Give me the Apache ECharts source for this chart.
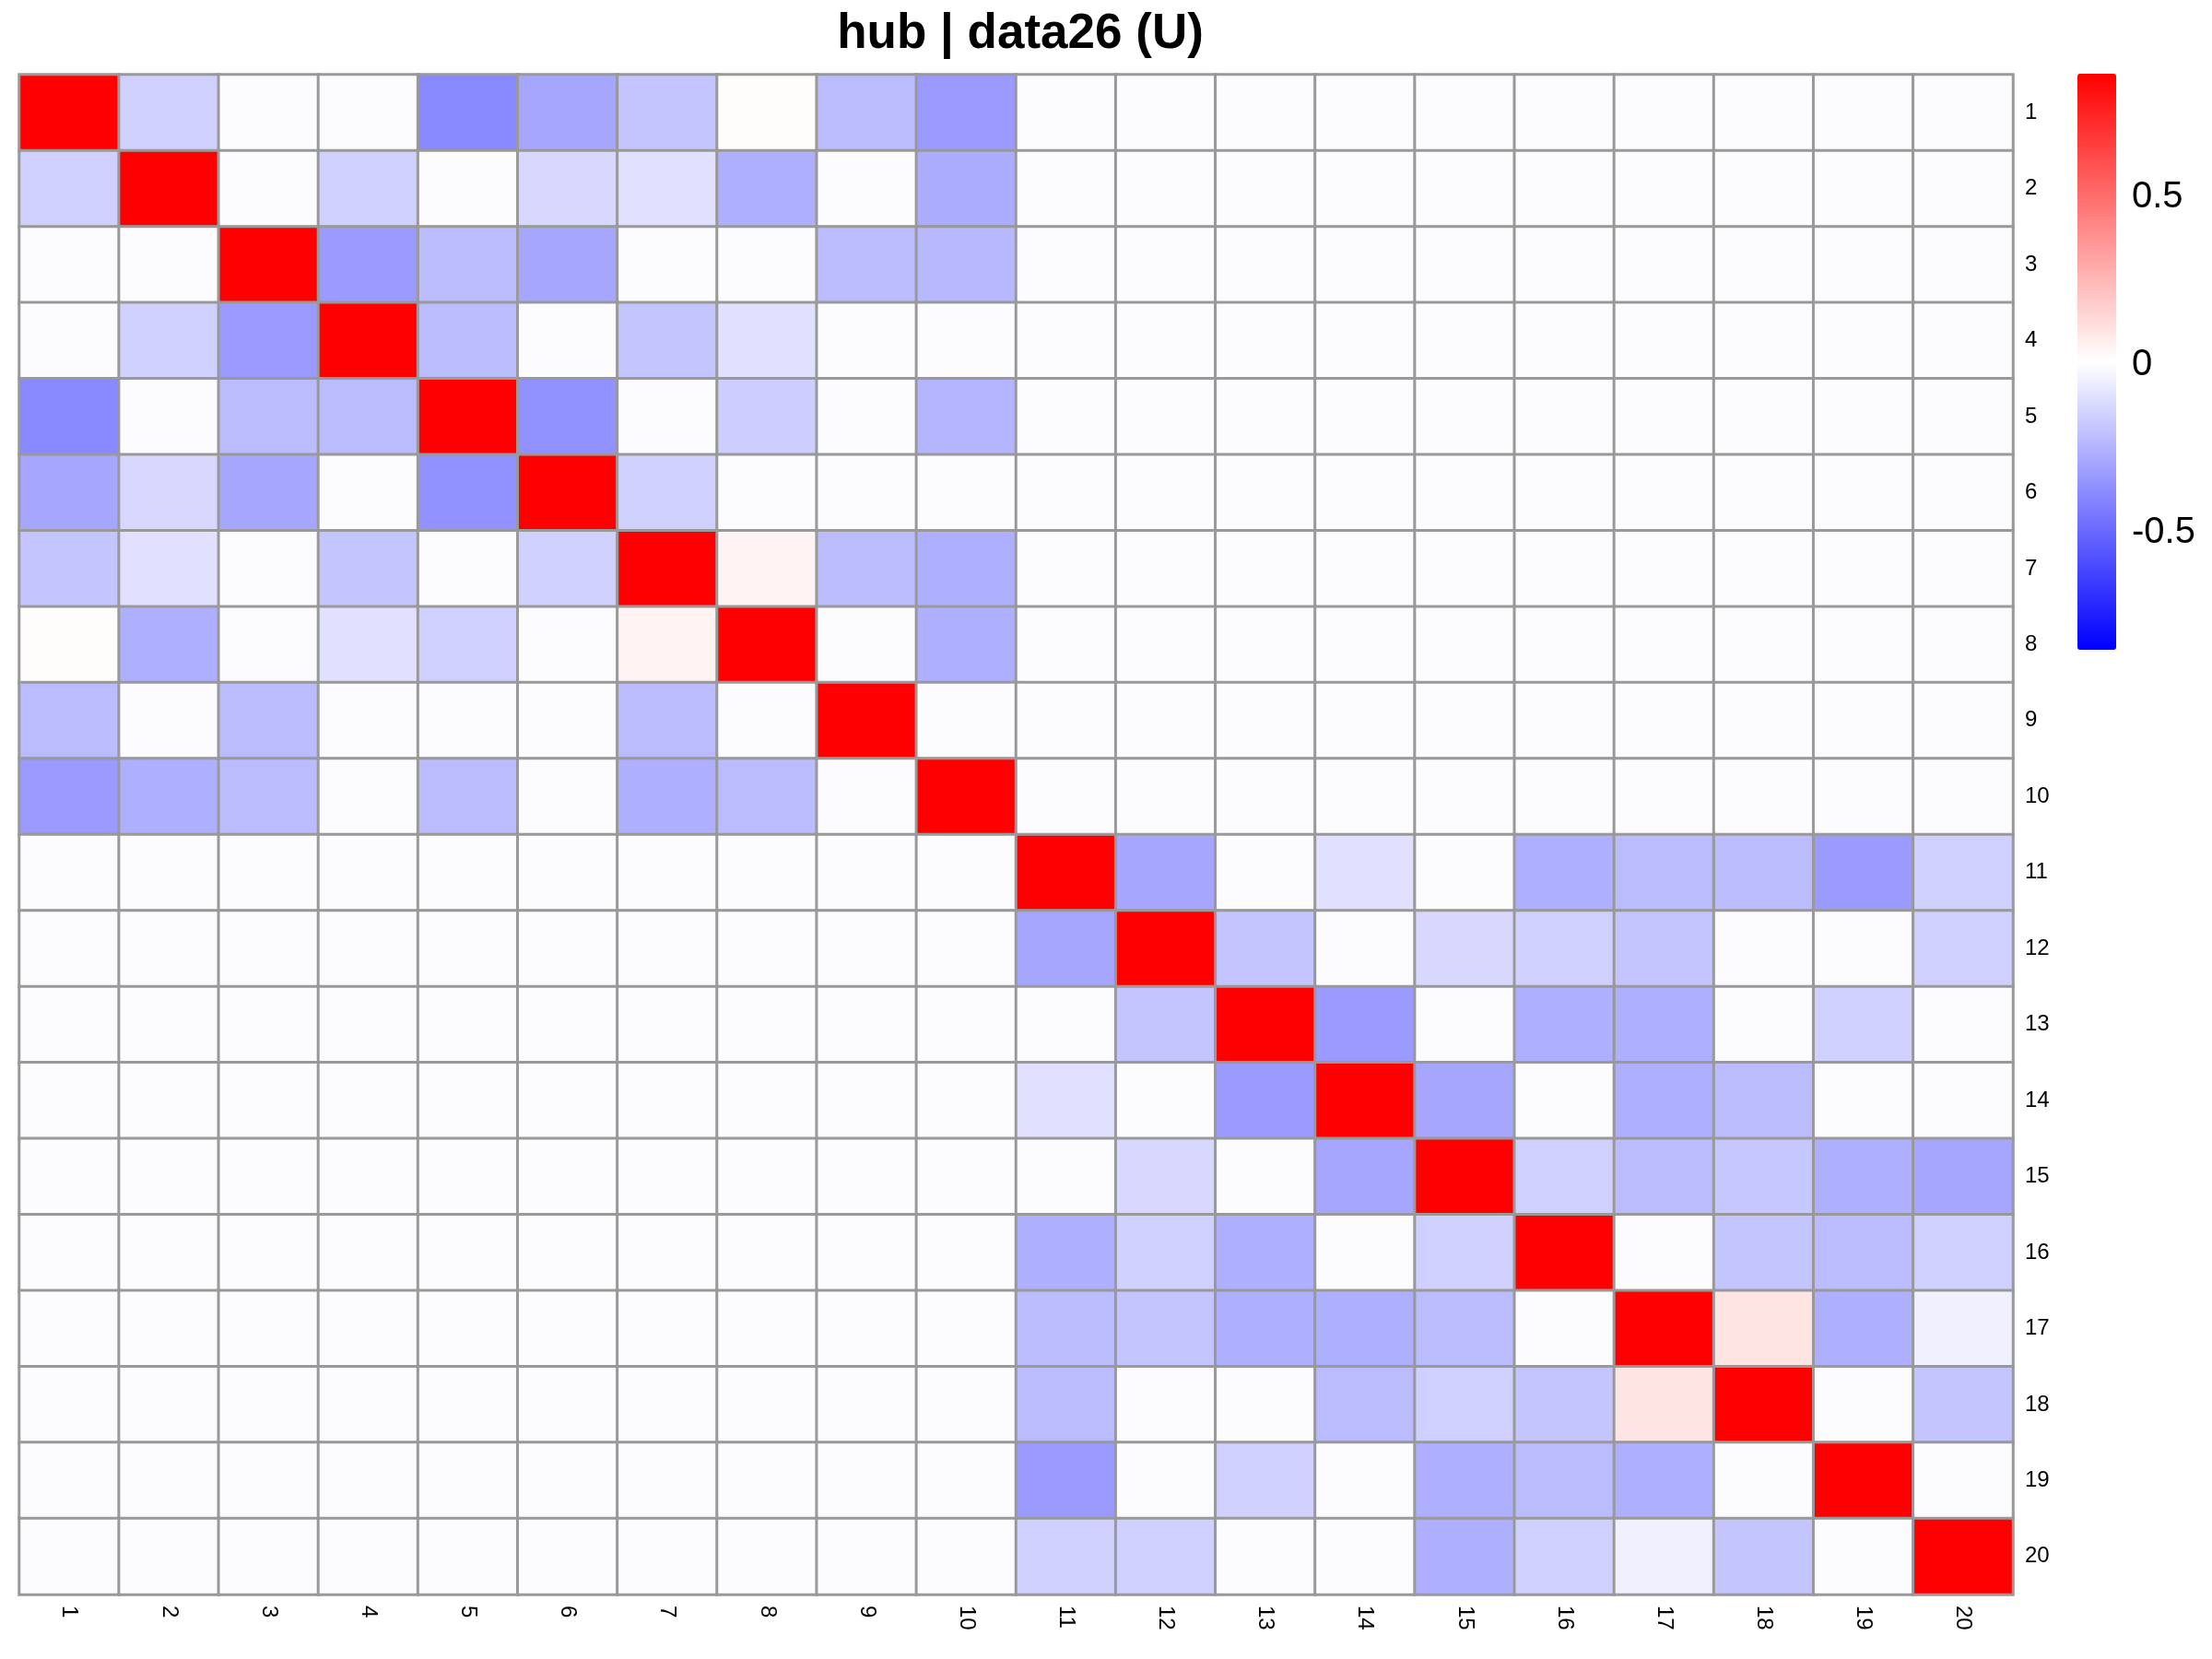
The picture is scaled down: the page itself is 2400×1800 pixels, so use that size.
<!DOCTYPE html>
<html>
<head>
<meta charset="utf-8">
<script src="https://cdn.jsdelivr.net/npm/echarts@6/dist/echarts.min.js"></script>
<style>
html,body{margin:0;padding:0;background:#fff;}
#chart{width:2400px;height:1800px;}
</style>
</head>
<body>
<div id="chart"></div>
<script>
// ---- data ----
const titleText = 'hub | data26 (U)';
const rowLabels = ['1','2','3','4','5','6','7','8','9','10','11','12','13','14','15','16','17','18','19','20'];
const colLabels = ['1','2','3','4','5','6','7','8','9','10','11','12','13','14','15','16','17','18','19','20'];
const legendTicks = [-0.5, 0, 0.5];
const colorMin = -0.85;
const colorMax = 0.87;
const D = 0.87; // diagonal (saturated red)
const matrix = [
  [D,-0.15,0,0,-0.39,-0.29,-0.19,0.02,-0.22,-0.33, 0,0,0,0,0,0,0,0,0,0],
  [-0.15,D,0,-0.15,0,-0.12,-0.09,-0.26,0,-0.27, 0,0,0,0,0,0,0,0,0,0],
  [0,0,D,-0.33,-0.22,-0.29,0,0,-0.22,-0.23, 0,0,0,0,0,0,0,0,0,0],
  [0,-0.15,-0.33,D,-0.22,0,-0.19,-0.09,0,0, 0,0,0,0,0,0,0,0,0,0],
  [-0.39,0,-0.22,-0.22,D,-0.36,0,-0.16,0,-0.24, 0,0,0,0,0,0,0,0,0,0],
  [-0.29,-0.12,-0.29,0,-0.36,D,-0.15,0,0,0, 0,0,0,0,0,0,0,0,0,0],
  [-0.19,-0.09,0,-0.19,0,-0.15,D,0.05,-0.22,-0.26, 0,0,0,0,0,0,0,0,0,0],
  [0.02,-0.26,0,-0.09,-0.15,0,0.05,D,0,-0.26, 0,0,0,0,0,0,0,0,0,0],
  [-0.22,0,-0.22,0,0,0,-0.22,0,D,0, 0,0,0,0,0,0,0,0,0,0],
  [-0.33,-0.26,-0.22,0,-0.22,0,-0.26,-0.22,0,D, 0,0,0,0,0,0,0,0,0,0],
  [0,0,0,0,0,0,0,0,0,0, D,-0.29,0,-0.09,0,-0.26,-0.22,-0.22,-0.33,-0.15],
  [0,0,0,0,0,0,0,0,0,0, -0.29,D,-0.19,0,-0.12,-0.15,-0.19,0,0,-0.15],
  [0,0,0,0,0,0,0,0,0,0, 0,-0.19,D,-0.33,0,-0.26,-0.26,0,-0.15,0],
  [0,0,0,0,0,0,0,0,0,0, -0.09,0,-0.33,D,-0.29,0,-0.26,-0.22,0,0],
  [0,0,0,0,0,0,0,0,0,0, 0,-0.12,0,-0.29,D,-0.15,-0.22,-0.18,-0.26,-0.29],
  [0,0,0,0,0,0,0,0,0,0, -0.26,-0.15,-0.26,0,-0.15,D,0,-0.19,-0.22,-0.15],
  [0,0,0,0,0,0,0,0,0,0, -0.22,-0.19,-0.26,-0.26,-0.22,0,D,0.10,-0.26,-0.04],
  [0,0,0,0,0,0,0,0,0,0, -0.22,0,0,-0.22,-0.15,-0.19,0.10,D,0,-0.19],
  [0,0,0,0,0,0,0,0,0,0, -0.33,0,-0.15,0,-0.26,-0.22,-0.26,0,D,0],
  [0,0,0,0,0,0,0,0,0,0, -0.15,-0.15,0,0,-0.26,-0.15,-0.04,-0.19,0,D]
];

// ---- build ----
const cells = [];
for (let r = 0; r < rowLabels.length; r++) {
  for (let c = 0; c < colLabels.length; c++) {
    cells.push([c, r, matrix[r][c]]);
  }
}

const FONT = '"Liberation Sans", Arial, sans-serif';
const chart = echarts.init(document.getElementById('chart'), null, {renderer: 'canvas'});
chart.setOption({
  backgroundColor: '#ffffff',
  animation: false,
  title: {
    text: titleText,
    left: 1102,
    textAlign: 'center',
    top: 6,
    textStyle: {fontFamily: FONT, fontSize: 53, fontWeight: 'bold', color: '#000'}
  },
  grid: [
    {left: 21, top: 81, width: 2163, height: 1649},
    {left: 2254, top: 80, width: 42, height: 625}
  ],
  xAxis: [
    {
      gridIndex: 0, type: 'category', data: colLabels, position: 'bottom',
      axisLine: {show: false}, axisTick: {show: false}, splitLine: {show: false},
      axisLabel: {rotate: -90, fontSize: 24, fontFamily: FONT, color: '#000', margin: 12}
    },
    {gridIndex: 1, type: 'value', show: false}
  ],
  yAxis: [
    {
      gridIndex: 0, type: 'category', data: rowLabels, position: 'right', inverse: true,
      axisLine: {show: false}, axisTick: {show: false}, splitLine: {show: false},
      axisLabel: {fontSize: 24, fontFamily: FONT, color: '#000', margin: 13, padding: [14, 0, 0, 0]}
    },
    {
      gridIndex: 1, type: 'value', position: 'right', min: colorMin, max: colorMax,
      axisLine: {show: false}, axisTick: {show: false}, splitLine: {show: false},
      axisLabel: {
        fontSize: 40, fontFamily: FONT, color: '#000', margin: 17,
        customValues: legendTicks,
        formatter: v => String(v)
      }
    }
  ],
  visualMap: {
    type: 'continuous',
    seriesIndex: 0,
    min: colorMin, max: colorMax,
    calculable: false,
    show: true,
    left: 2254, top: 80,
    itemWidth: 42, itemHeight: 625,
    padding: 0,
    text: null,
    showLabel: false,
    inRange: {color: ['#0000FF', '#FFFFFF', '#FF0000']}
  },
  series: [{
    type: 'heatmap',
    xAxisIndex: 0, yAxisIndex: 0,
    data: cells,
    itemStyle: {borderColor: '#999999', borderWidth: 3},
    emphasis: {disabled: true}
  }]
});
</script>
</body>
</html>
